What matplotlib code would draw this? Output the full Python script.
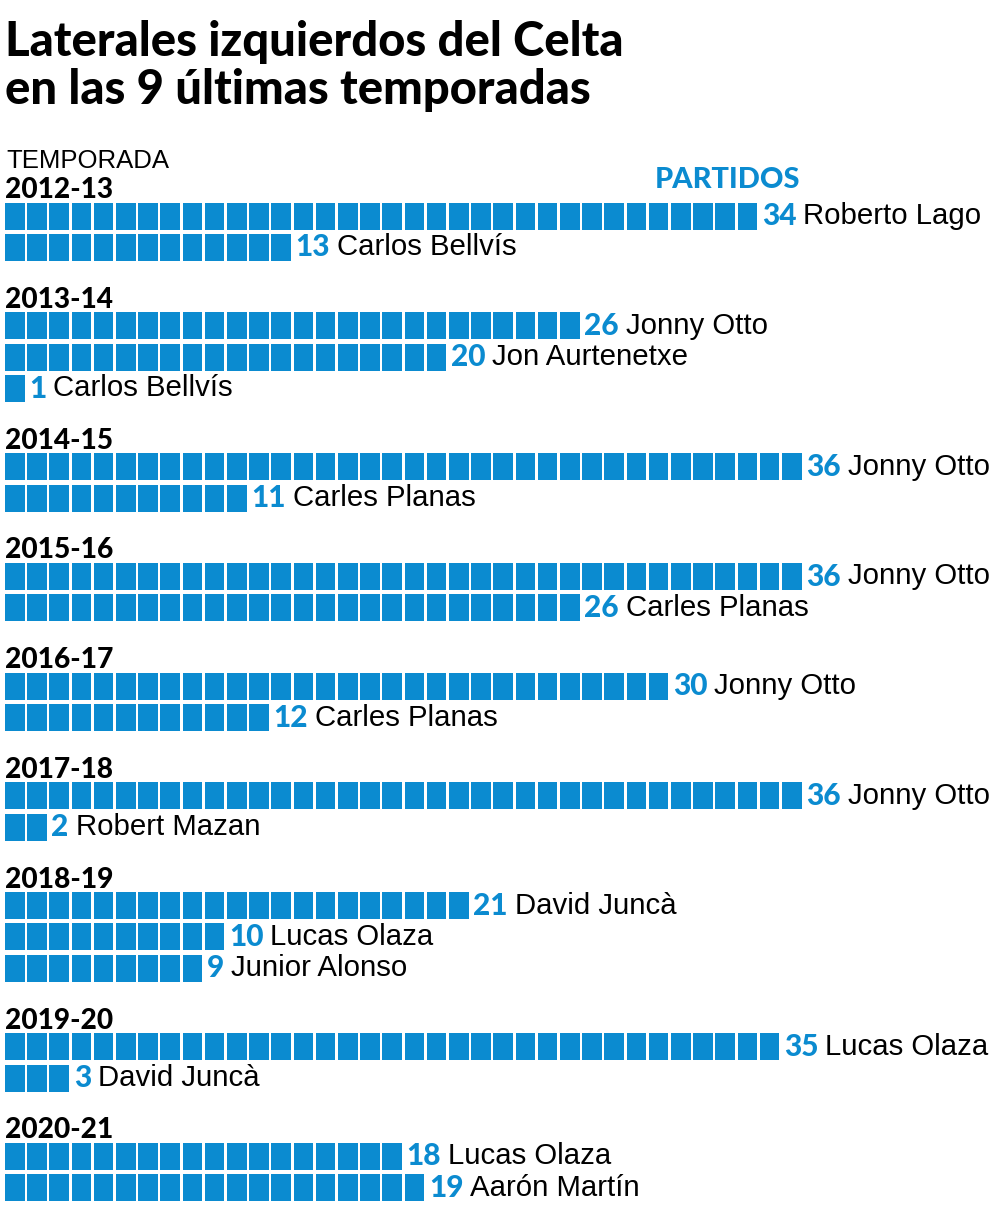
import matplotlib.pyplot as plt

seasons = ['2012-13', '2013-14', '2014-15', '2015-16', '2016-17',
           '2017-18', '2018-19', '2019-20', '2020-21']
players = [
    ['Roberto Lago', 'Carlos Bellvís'],
    ['Jonny Otto', 'Jon Aurtenetxe', 'Carlos Bellvís'],
    ['Jonny Otto', 'Carles Planas'],
    ['Jonny Otto', 'Carles Planas'],
    ['Jonny Otto', 'Carles Planas'],
    ['Jonny Otto', 'Robert Mazan'],
    ['David Juncà', 'Lucas Olaza', 'Junior Alonso'],
    ['Lucas Olaza', 'David Juncà'],
    ['Lucas Olaza', 'Aarón Martín'],
]
games = [[34, 13], [26, 20, 1], [36, 11], [36, 26], [30, 12],
         [36, 2], [21, 10, 9], [35, 3], [18, 19]]

BLUE = '#0b8bd0'
HEAVY = ['Lato', 'DejaVu Sans']
NORMAL = ['Liberation Sans', 'DejaVu Sans']

fig = plt.figure(figsize=(10, 12.16), dpi=100)
ax = fig.add_axes([0, 0, 1, 1])
ax.set_xlim(0, 1000)
ax.set_ylim(1216, 0)
ax.axis('off')
renderer = fig.canvas.get_renderer()


def fit(t, width_px):
    # shrink/grow the font so the text is as wide as in the original
    w = t.get_window_extent(renderer).width
    t.set_fontsize(t.get_fontsize() * width_px / w)


# title
t1 = ax.text(5, 56, 'Laterales izquierdos del Celta', fontsize=35,
             fontweight='black', family=HEAVY, va='baseline')
fit(t1, 617)
t2 = ax.text(5, 104, 'en las 9 últimas temporadas', fontsize=t1.get_fontsize(),
             fontweight='black', family=HEAVY, va='baseline')
ax.text(6, 168, 'TEMPORADA', fontsize=18.5, family=NORMAL, va='baseline')
pt = ax.text(800, 188, 'PARTIDOS', fontsize=20, fontweight='black', color=BLUE,
             family=HEAVY, va='baseline', ha='right')
fit(pt, 145)

x0 = 5
pitch = 22.2
bw = 19.6
bh = 27
row_gap = 31.4

y = 188
for season, names, vals in zip(seasons, players, games):
    st = ax.text(5, y + 10, season, fontsize=20, fontweight='black',
                 family=HEAVY, va='baseline')
    fit(st, 108)
    for k, (name, n) in enumerate(zip(names, vals)):
        yc = y + 28 + k * row_gap
        lefts = [x0 + i * pitch for i in range(n)]
        ax.bar(lefts, bh, width=bw, bottom=yc - bh / 2, align='edge',
               color=BLUE, linewidth=0)
        num = ax.text(x0 + n * pitch + 2, yc, str(n), fontsize=21.5,
                      fontweight='black', color=BLUE, family=HEAVY, va='center')
        ax.annotate(name, xy=(1, 0.5), xycoords=num, xytext=(5, 0),
                    textcoords='offset points', fontsize=21.2, family=NORMAL,
                    va='center')
    y = yc + 50.3

fig.savefig('out.png', dpi=100)
